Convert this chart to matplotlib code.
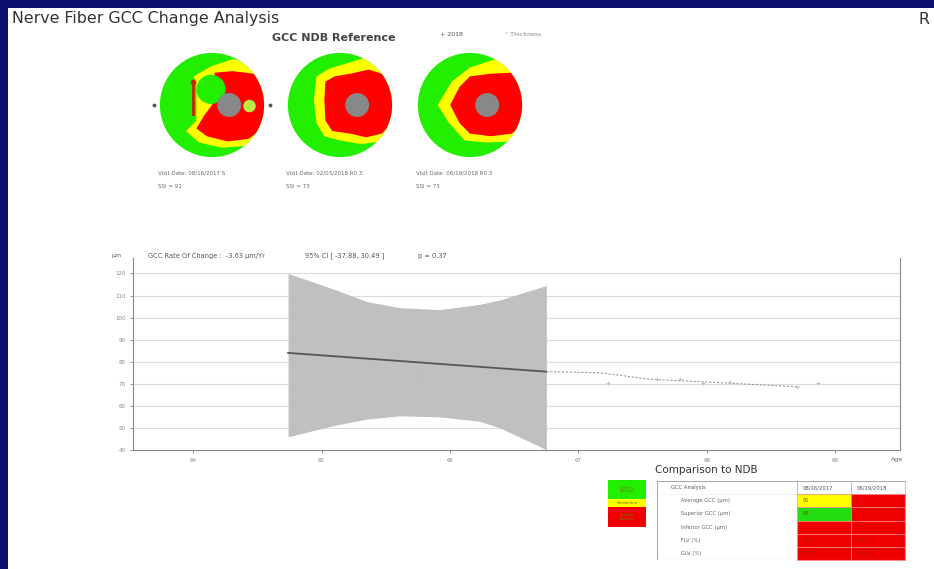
import matplotlib.pyplot as plt
from matplotlib.patches import Rectangle, Circle, Polygon

# ---- data ----
ages = [64, 65, 66, 67, 68, 69]
y_ticks = [40, 50, 60, 70, 80, 90, 100, 110, 120]

band_age = [64.74, 65.09, 65.35, 65.61, 65.92, 66.23, 66.39, 66.72, 66.75]
band_upper = [120, 113, 107.3, 104.5, 103.6, 106, 108, 114, 114.5]
band_lower = [46, 51, 54, 55.5, 55, 53, 50, 41, 40]

trend_age = [64.74, 66.75]
trend_val = [84, 75.5]

proj_age = [66.75, 67.17, 67.56, 68.10, 68.72]
proj_val = [75.5, 75, 72, 70.5, 68.6]

mark_age = [65.76, 67.23, 67.61, 67.79, 67.97, 68.18, 68.70, 68.86]
mark_val = [74, 70.5, 72.3, 72.3, 70.5, 71, 68.6, 70.5]

rate_text = "GCC Rate Of Change :  -3.63 \u00b5m/Yr"
ci_text = "95% CI [ -37.88, 30.49 ]"
p_text = "p = 0.37"

visit_lines = [("Visit Date: 08/16/2017 S", "SSI = 91"),
               ("Visit Date: 02/03/2018 R0 3", "SSI = 73"),
               ("Visit Date: 06/19/2018 R0 3", "SSI = 73")]

# deviation map outlines (disk units, radius 1)
red_maps = [
    [(0.05, 0.62), (0.4, 0.65), (0.8, 0.6), (1.05, 0.3), (1.05, -0.4), (0.7, -0.65), (0.3, -0.7),
     (-0.1, -0.6), (-0.3, -0.45), (-0.15, -0.2), (0.0, 0.0), (0.05, 0.3)],
    [(-0.28, 0.45), (-0.1, 0.55), (0.2, 0.6), (0.55, 0.68), (0.8, 0.6), (1.05, 0.4), (1.05, -0.3),
     (0.8, -0.55), (0.5, -0.62), (0.2, -0.55), (-0.15, -0.5), (-0.28, -0.3), (-0.3, 0.1)],
    [(-0.38, 0.0), (-0.2, 0.35), (0.0, 0.55), (0.4, 0.6), (0.8, 0.62), (1.05, 0.4), (1.05, -0.35),
     (0.8, -0.55), (0.4, -0.6), (0.0, -0.55), (-0.2, -0.35)],
]
yellow_maps = [
    [(-0.35, 0.55), (0.0, 0.75), (0.4, 0.88), (0.8, 0.8), (1.1, 0.4), (1.1, -0.5), (0.7, -0.78),
     (0.2, -0.82), (-0.25, -0.72), (-0.5, -0.5), (-0.3, -0.3), (-0.3, 0.4)],
    [(-0.45, 0.55), (-0.2, 0.7), (0.3, 0.85), (0.6, 0.95), (0.9, 0.8), (1.1, 0.5), (1.1, -0.4),
     (0.8, -0.7), (0.4, -0.75), (0.0, -0.68), (-0.3, -0.6), (-0.45, -0.35), (-0.5, 0.1)],
    [(-0.62, 0.0), (-0.35, 0.45), (0.0, 0.72), (0.4, 0.85), (0.7, 0.95), (1.1, 0.6), (1.1, -0.5),
     (0.8, -0.7), (0.3, -0.72), (-0.1, -0.68), (-0.4, -0.35)],
]
map_centers = [212, 340, 470]

table_rows = ["GCC Analysis", "Average GCC (\u00b5m)", "Superior GCC (\u00b5m)",
              "Inferior GCC (\u00b5m)", "FLV (%)", "GLV (%)"]
table_col1 = ["08/16/2017", "81", "88", "", "7.87", "21.6"]
table_col2 = ["06/19/2018", "", "", "", "8.61", "24.3"]
table_colors1 = ["white", "#ffff00", "#22dd11", "#ee0000", "#ee0000", "#ee0000"]
table_colors2 = ["white", "#ee0000", "#ee0000", "#ee0000", "#ee0000", "#ee0000"]

W, H = 934, 569


def fx(x):
    return x / W


def fy(y):
    return 1 - y / H


fig = plt.figure(figsize=(W / 100, H / 100), dpi=100, facecolor="#0a0f6c")
fig.patches.append(Rectangle((fx(8), 0), 1 - fx(8), fy(8), transform=fig.transFigure,
                             facecolor="white", edgecolor="none", zorder=-10))

fig.text(fx(12), fy(19), "Nerve Fiber GCC Change Analysis", fontsize=11.4, color="#333333", va="center")
fig.text(fx(918), fy(19), "R", fontsize=11.4, color="#333333", va="center")
fig.text(fx(272), fy(38), "GCC NDB Reference", fontsize=8, color="#444444", va="center", weight="bold")
fig.text(fx(440), fy(34), "+ 2018", fontsize=4.5, color="#555555", va="center")
fig.text(fx(505), fy(34), "\u00b0 Thickness", fontsize=4.5, color="#888888", va="center")

# ---- deviation maps ----
for i, cx in enumerate(map_centers):
    m = fig.add_axes([fx(cx - 62), fy(105 + 62), 124 / W, 124 / H])
    m.set_xlim(-1.19, 1.19)
    m.set_ylim(-1.19, 1.19)
    m.set_aspect("equal")
    m.axis("off")
    disk = Circle((0, 0), 1, facecolor="#22ee00", edgecolor="none")
    m.add_patch(disk)
    yel = Polygon(yellow_maps[i], closed=True, facecolor="#ffff00", edgecolor="none")
    yel.set_clip_path(disk)
    m.add_patch(yel)
    red = Polygon(red_maps[i], closed=True, facecolor="#ff0000", edgecolor="none")
    red.set_clip_path(disk)
    m.add_patch(red)
    if i == 0:
        m.add_patch(Circle((-0.02, 0.3), 0.28, facecolor="#22ee00", edgecolor="none"))
        m.add_patch(Circle((0.72, -0.02), 0.12, facecolor="#bbee44", edgecolor="none"))
        m.plot([-0.36, -0.36], [0.42, -0.18], color="#cc2200", lw=2)
        m.plot([-0.36], [0.45], "o", color="#cc2200", ms=3)
        m.plot([-1.12, 1.12], [0.0, 0.0], "o", color="#555555", ms=1.8, clip_on=False)
    m.add_patch(Circle((0.33, 0.0), 0.23, facecolor="#888888", edgecolor="none"))
    fig.text(fx(cx - 54), fy(173), visit_lines[i][0], fontsize=4, color="#666666", va="center")
    fig.text(fx(cx - 54), fy(186), visit_lines[i][1], fontsize=4, color="#666666", va="center")

# ---- change chart ----
ax = fig.add_axes([fx(133), fy(450), (900 - 133) / W, (450 - 258) / H])
ax.set_facecolor("white")
ax.set_xlim(63.533, 69.502)
ax.set_ylim(40, 127)
for v in y_ticks[1:]:
    ax.axhline(v, color="#dcdcdc", lw=0.8, zorder=0)
ax.fill_between(band_age, band_lower, band_upper, color="#c0c0c0", lw=0, zorder=1)
ax.plot(trend_age, trend_val, color="#555555", lw=1.3, zorder=3)
ax.plot(proj_age, proj_val, color="#999999", lw=0.8, ls=(0, (2, 1.5)), zorder=3)
ax.plot(mark_age, mark_val, "+", color="#bbbbbb", ms=3, mew=0.6, zorder=3)
ax.set_xticks(ages)
ax.set_xticklabels([str(a) for a in ages])
ax.set_yticks(y_ticks)
ax.tick_params(labelsize=4, colors="#888888", length=2, width=0.6)
ax.spines["top"].set_visible(False)
for s in ["left", "bottom", "right"]:
    ax.spines[s].set_color("#888888")
    ax.spines[s].set_linewidth(0.8)
fig.text(fx(891), fy(459), "Age", fontsize=4.5, color="#666666", va="center")
fig.text(fx(112), fy(256), "\u00b5m", fontsize=4.5, color="#555555", va="center")
fig.text(fx(148), fy(256), rate_text, fontsize=4.8, color="#555555", va="center")
fig.text(fx(305), fy(256), ci_text, fontsize=4.8, color="#555555", va="center")
fig.text(fx(418), fy(256), p_text, fontsize=4.8, color="#555555", va="center")

# ---- comparison to NDB ----
fig.text(fx(655), fy(470), "Comparison to NDB", fontsize=7.5, color="#333333", va="center")
legend_boxes = [(480, 499, "#22ee00", "Within\nNormal"),
                (499, 507, "#ffff00", "Borderline"),
                (507, 527, "#ee0000", "Outside\nNormal")]
for top, bot, col, lab in legend_boxes:
    fig.patches.append(Rectangle((fx(608), fy(bot)), 38 / W, (bot - top) / H,
                                 transform=fig.transFigure, facecolor=col, edgecolor="none"))
    fig.text(fx(627), fy((top + bot) / 2), lab, fontsize=3, color="#777700", ha="center",
             va="center", linespacing=0.9)

tab_ax = fig.add_axes([fx(657), fy(560), (905 - 657) / W, (560 - 481) / H])
tab_ax.axis("off")
cell_text = [[r, a, b] for r, a, b in zip(table_rows, table_col1, table_col2)]
cell_cols = [["white", c1, c2] for c1, c2 in zip(table_colors1, table_colors2)]
tab = tab_ax.table(cellText=cell_text, cellColours=cell_cols, colWidths=[0.565, 0.218, 0.218],
                   bbox=[0, 0, 1, 1], cellLoc="left")
tab.auto_set_font_size(False)
for (r, c), cell in tab.get_celld().items():
    cell.set_fontsize(3.8)
    cell.set_linewidth(0.5)
    if r == 0:
        cell.set_edgecolor("#aaaaaa")
        cell.get_text().set_color("#555555")
    elif c == 0:
        cell.set_edgecolor("white")
        cell.get_text().set_color("#666666")
        cell.get_text().set_text("      " + cell.get_text().get_text())
    else:
        cell.set_edgecolor("#ff8888")
        cell.get_text().set_color("#aa2200" if cell_cols[r][c] == "#ee0000" else "#666600")
tab_ax.add_patch(Rectangle((0, 0), 1, 1, transform=tab_ax.transAxes, fill=False,
                           edgecolor="#aaaaaa", lw=0.8, zorder=5))

fig.savefig("out.png", dpi=100, facecolor=fig.get_facecolor())
